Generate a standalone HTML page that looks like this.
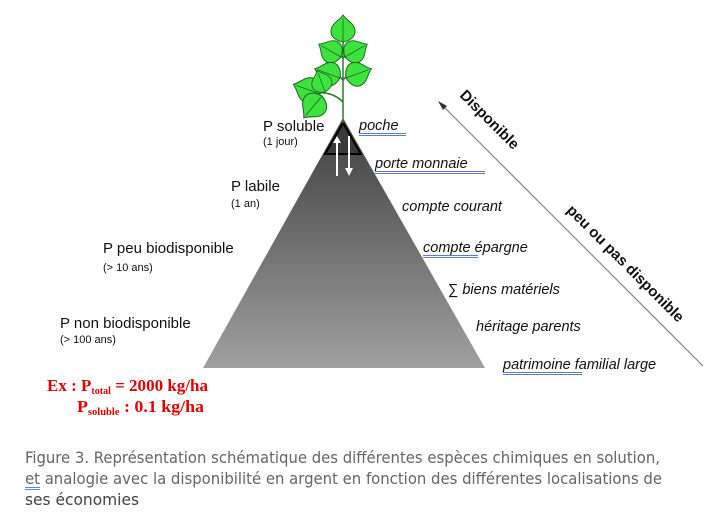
<!DOCTYPE html>
<html><head><meta charset="utf-8"><style>
html,body{margin:0;padding:0;background:#fff;}
svg{display:block;}
</style></head><body>
<svg width="722" height="522" viewBox="0 0 722 522" xmlns="http://www.w3.org/2000/svg" font-family="Liberation Sans, Arial, sans-serif">
<defs>
<linearGradient id="g" x1="0" y1="0" x2="0" y2="1">
<stop offset="0" stop-color="#3e3e3e"/><stop offset="1" stop-color="#a0a0a0"/>
</linearGradient>
<g id="leaf"><path d="M0,0 C-5,-1 -13,-4 -12,-12 C-11,-19 -4,-21 0,-27 C4,-21 11,-19 12,-12 C13,-4 5,-1 0,0Z" fill="#3ee23e" stroke="#1d6a1d" stroke-width="1"/><line x1="0" y1="0" x2="0" y2="-24" stroke="#1d6a1d" stroke-width="0.8"/></g>
</defs>
<polygon points="343,118 203,368 485,368" fill="url(#g)"/>
<polygon points="343,123 325,154 361,154" fill="#3a3a3a" stroke="#000" stroke-width="2"/>
<line x1="337" y1="176" x2="337" y2="141" stroke="#fff" stroke-width="2"/>
<polygon points="333,143 341,143 337,136" fill="#fff"/>
<line x1="349" y1="136" x2="349" y2="170" stroke="#fff" stroke-width="2"/>
<polygon points="345,168 353,168 349,176" fill="#fff"/>
<g stroke="#2a7a2a" stroke-width="1.5" fill="none">
<line x1="343" y1="123" x2="343" y2="38"/>
<path d="M343,102 C335,94 325,92 318,93"/>
<path d="M343,80 C338,74 332,72 326,72"/>
<path d="M343,80 C348,74 354,72 360,72"/>
<path d="M343,58 C339,54 334,52 330,52"/>
<path d="M343,58 C347,54 352,52 356,52"/>
</g>
<use href="#leaf" transform="translate(343,42)"/>
<use href="#leaf" transform="translate(341,57) rotate(-60) scale(0.95)"/>
<use href="#leaf" transform="translate(345,57) rotate(60) scale(0.95)"/>
<use href="#leaf" transform="translate(340,78) rotate(-70)"/>
<use href="#leaf" transform="translate(346,78) rotate(70)"/>
<use href="#leaf" transform="translate(320,94) rotate(-70) scale(1.05)"/>
<use href="#leaf" transform="translate(322,96) rotate(-140) scale(1.05)"/>
<use href="#leaf" transform="translate(325,92) rotate(-20) scale(0.85)"/>
<g fill="#111">
<text x="263" y="131" font-size="15">P soluble</text>
<text x="263" y="145" font-size="11">(1 jour)</text>
<text x="231" y="191" font-size="15">P labile</text>
<text x="231" y="207" font-size="11">(1 an)</text>
<text x="103" y="253" font-size="15">P peu biodisponible</text>
<text x="103" y="271" font-size="11">(&gt; 10 ans)</text>
<text x="60" y="328" font-size="15">P non biodisponible</text>
<text x="60" y="343" font-size="11">(&gt; 100 ans)</text>
</g>
<g fill="#111" font-size="14.5" font-style="italic">
<text x="359" y="130">poche</text>
<text x="375" y="168">porte monnaie</text>
<text x="402" y="211">compte courant</text>
<text x="423" y="252">compte épargne</text>
<text x="448" y="294"><tspan font-style="normal">∑</tspan> biens matériels</text>
<text x="476" y="331">héritage parents</text>
<text x="503" y="369">patrimoine familial large</text>
</g>
<g stroke="#2b4fa8" stroke-width="0.7">
<line x1="359" y1="133.5" x2="406" y2="133.5"/><line x1="359" y1="135.5" x2="406" y2="135.5"/>
<line x1="375" y1="171.5" x2="485" y2="171.5"/><line x1="375" y1="173.5" x2="485" y2="173.5"/>
<line x1="423" y1="255.5" x2="478" y2="255.5"/><line x1="423" y1="257.5" x2="478" y2="257.5"/>
<line x1="503" y1="372.5" x2="582" y2="372.5"/><line x1="503" y1="374.5" x2="582" y2="374.5"/>
</g>
<line x1="443" y1="106" x2="703" y2="366" stroke="#777" stroke-width="1"/>
<polygon points="438,101 447,106 443,110" fill="#333"/>
<text transform="translate(459,96) rotate(45)" font-size="15" font-weight="bold" fill="#111">Disponible</text>
<text transform="translate(566,211) rotate(45)" font-size="15" font-weight="bold" fill="#111">peu ou pas disponible</text>
<g fill="#e00000" font-family="Liberation Serif, serif" font-weight="bold" font-size="17">
<text x="47" y="391" textLength="161" lengthAdjust="spacingAndGlyphs">Ex : P<tspan font-size="10" dy="3">total</tspan><tspan dy="-3"> = 2000 kg/ha</tspan></text>
<text x="77" y="412" textLength="127" lengthAdjust="spacingAndGlyphs">P<tspan font-size="10" dy="3">soluble</tspan><tspan dy="-3"> :  0.1 kg/ha</tspan></text>
</g>
<g fill="#666" font-size="16" font-family="DejaVu Sans Condensed, DejaVu Sans, sans-serif" style="font-stretch:condensed">
<text x="25" y="463" textLength="635" lengthAdjust="spacingAndGlyphs">Figure 3. Représentation schématique des différentes espèces chimiques en solution,</text>
<text x="25" y="484" textLength="637" lengthAdjust="spacingAndGlyphs">et analogie avec la disponibilité en argent en fonction des différentes localisations de</text>
<text x="25" y="505" fill="#444" textLength="114" lengthAdjust="spacingAndGlyphs">ses économies</text>
</g>
<line x1="25" y1="487.5" x2="40" y2="487.5" stroke="#2b4fa8" stroke-width="0.7"/>
<line x1="25" y1="489.5" x2="40" y2="489.5" stroke="#2b4fa8" stroke-width="0.7"/>
</svg>
</body></html>
